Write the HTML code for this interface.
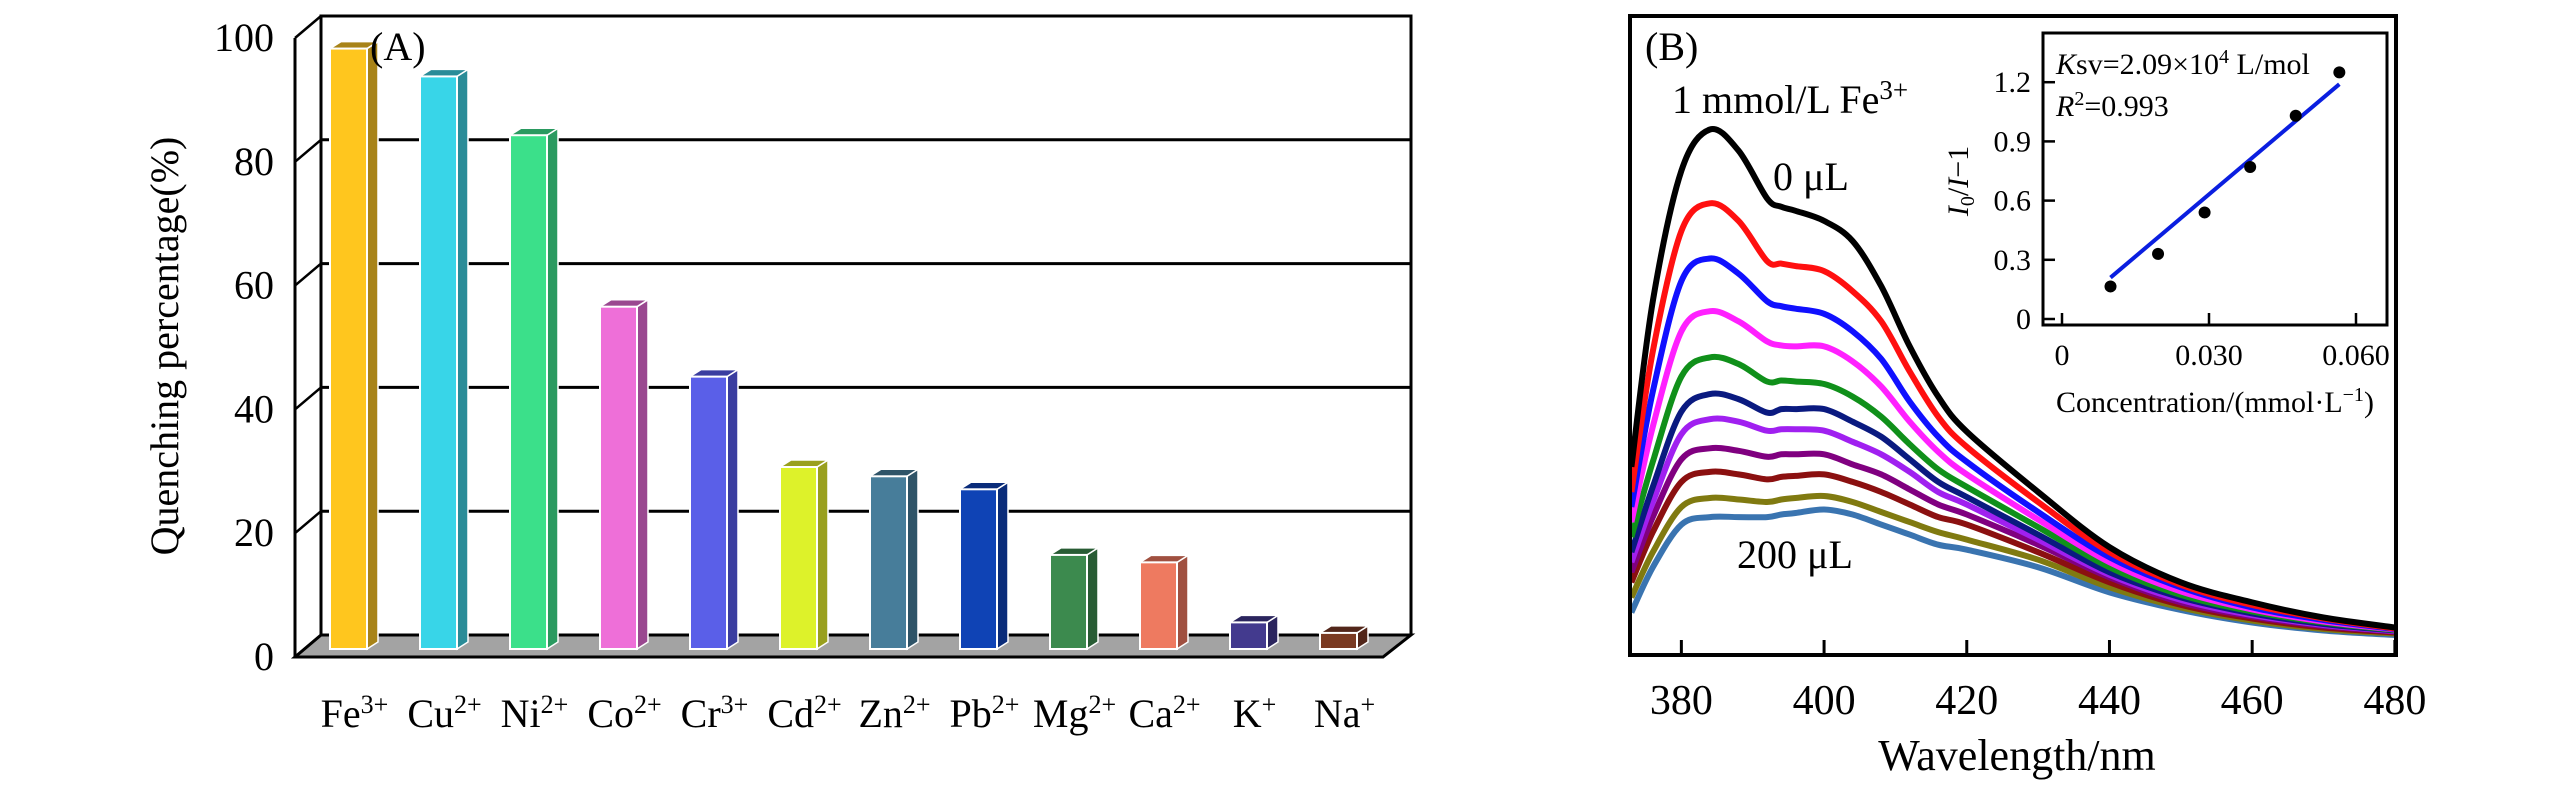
<!DOCTYPE html>
<html><head><meta charset="utf-8">
<style>
html,body{margin:0;padding:0;background:#fff;}
svg{display:block;font-family:"Liberation Serif","DejaVu Serif",serif;}
</style></head>
<body>
<svg id="fig" width="2567" height="787" viewBox="0 0 2567 787">
<g id="pa"></g>
<g id="pb"></g>
<g id="pc"></g>
</svg>
<script>
// ---------- Panel A data ----------
const ions = ["Fe","Cu","Ni","Co","Cr","Cd","Zn","Pb","Mg","Ca","K","Na"];
const charges = ["3+","2+","2+","2+","3+","2+","2+","2+","2+","2+","+","+"];
const quench = [97,92.5,83,55.3,44,29.4,27.9,25.8,15.2,14,4.3,2.6];
const yTicksA = [0,20,40,60,80,100];
const barColors = ["#FFC61E","#38D5E8","#3BE08A","#EE6FD8","#5A5FE8","#DDF22A","#477D9A","#0F43B5","#3C8A4E","#EE7A60","#433A8E","#7A3A22"];
const barSides = ["#A88318","#2A8C98","#2A9A60","#9A4890","#3A3DA0","#99A01E","#2F5468","#0A2C7A","#285C34","#A05040","#2B255E","#52261A"];

// ---------- Panel B data ----------
const wl = [373,376,380,384,388,392,394,396,400,404,408,412,416,420,430,440,450,460,470,480];
const s0 = [370,700,960,1042,1000,905,888,880,860,820,730,610,510,440,320,210,140,100,70,50];
const s1 = [320,600,840,895,860,780,775,770,760,720,660,560,470,410,300,200,135,95,68,48];
const s2 = [290,520,740,785,755,700,690,685,675,640,585,500,430,380,280,190,130,90,65,47];
const s3 = [260,450,640,680,660,620,612,610,610,580,530,460,400,355,265,180,122,86,62,46];
const s4 = [230,380,550,588,575,540,542,540,535,510,470,415,365,330,250,170,115,82,60,45];
const s5 = [200,330,480,515,505,478,485,485,485,460,430,385,340,310,235,160,110,78,57,44];
const s6 = [180,300,435,465,460,442,445,445,442,420,395,360,320,295,225,155,105,75,55,43];
const s7 = [160,270,385,407,402,390,395,395,395,375,355,325,295,275,215,150,100,72,53,42];
const s8 = [140,240,340,360,355,345,350,352,355,340,320,295,270,255,200,140,95,68,50,40];
const s9 = [110,200,290,308,305,300,305,308,312,300,280,260,240,225,185,130,90,64,47,38];
const s10 = [80,170,255,270,270,270,275,278,285,275,255,235,215,205,170,120,85,60,44,35];
const spectra = [s10,s9,s8,s7,s6,s5,s4,s3,s2,s1,s0];
const specColors = ["#3A74B0","#807A10","#8B1010","#800080","#A020F0","#0A1A80","#10901A","#FF20FF","#1010FF","#FF1010","#000000"];
const xTicksB = [380,400,420,440,460,480];

// ---------- Inset data ----------
const concX = [0.0099,0.0196,0.0291,0.0384,0.0477,0.0566];
const ratioY = [0.165,0.33,0.54,0.77,1.03,1.25];
const fitX = [0.0099,0.0566];
const fitY = [0.21,1.19];
const insetXTicks = [0,0.030,0.060];
const insetXLabels = ["0","0.030","0.060"];
const insetYTicks = [0,0.3,0.6,0.9,1.2];
const insetYLabels = ["0","0.3","0.6","0.9","1.2"];

const NS="http://www.w3.org/2000/svg";
function mk(parent,tag,attrs,txt){const e=document.createElementNS(NS,tag);for(const k in attrs)e.setAttribute(k,attrs[k]);if(txt!==undefined)e.textContent=txt;parent.appendChild(e);return e;}

// ===== Panel A =====
const pa=document.getElementById('pa');
const yBack=v=>635-6.19*v, yFront=v=>657-6.19*v, yBar=v=>649-6.19*v;
const barX=i=>330+90*i;
let e;
e=mk(pa,'polygon',{points:"295,657 1383,657 1411,635 321,635",fill:"#a3a3a3",stroke:"#000","stroke-width":3});


yTicksA.forEach(v=>{
  if(v>0&&v<100){
    e=mk(pa,'line',{x1:321,x2:1411,y1:yBack(v),y2:yBack(v),stroke:"#000","stroke-width":3});
    
    
  }
  e=mk(pa,'line',{x1:295,y1:yFront(v),x2:321,y2:yBack(v),stroke:"#000","stroke-width":2.5});
  
  
  e=mk(pa,'text',{x:274,y:yFront(v)+13,"text-anchor":"end","font-size":40},String(v));
  
  
});
e=mk(pa,'polyline',{points:`321,635 321,${yBack(100)} 1411,${yBack(100)} 1411,635`,fill:"none",stroke:"#000","stroke-width":3});


e=mk(pa,'line',{x1:295,y1:657,x2:295,y2:yFront(100),stroke:"#000","stroke-width":3});


quench.forEach((v,i)=>{
  const x=barX(i),w=37,b=649,t=yBar(v),dx=11,dy=-7;
  const g=mk(pa,'g',{});
  
  
  mk(g,'polygon',{points:`${x+w},${b} ${x+w+dx},${b+dy} ${x+w+dx},${t+dy} ${x+w},${t}`,fill:barSides[i],stroke:"#fff","stroke-width":1.5});
  mk(g,'polygon',{points:`${x},${t} ${x+dx},${t+dy} ${x+w+dx},${t+dy} ${x+w},${t}`,fill:barSides[i],stroke:"#fff","stroke-width":1.5});
  mk(g,'rect',{x:x,y:t,width:w,height:b-t,fill:barColors[i],stroke:"#fff","stroke-width":2});
  const tx=mk(pa,'text',{x:x+w/2+6,y:727,"text-anchor":"middle","font-size":40});
  
  
  mk(tx,'tspan',{},ions[i]);
  mk(tx,'tspan',{dy:-14,"font-size":26},charges[i]);
});
e=mk(pa,'text',{x:370,y:60,"font-size":40},"(A)");


e=mk(pa,'text',{x:0,y:0,"font-size":40,"text-anchor":"middle",transform:"translate(178,346) rotate(-90)"},"Quenching percentage(%)");



// ===== Panel B =====
const pb=document.getElementById('pb');
const bx=w=>1630+(w-372.8)*7.135, by=v=>652.6-0.502*v;
const cp=mk(pb,'clipPath',{id:'clipB'});mk(cp,'rect',{x:1630,y:16,width:766,height:639});
function smoothPath(P){
  let d=`M${P[0][0].toFixed(1)},${P[0][1].toFixed(1)}`;
  for(let i=0;i<P.length-1;i++){
    const p0=P[Math.max(i-1,0)],p1=P[i],p2=P[i+1],p3=P[Math.min(i+2,P.length-1)];
    const c1x=p1[0]+(p2[0]-p0[0])/6,c1y=p1[1]+(p2[1]-p0[1])/6;
    const c2x=p2[0]-(p3[0]-p1[0])/6,c2y=p2[1]-(p3[1]-p1[1])/6;
    d+=` C${c1x.toFixed(1)},${c1y.toFixed(1)} ${c2x.toFixed(1)},${c2y.toFixed(1)} ${p2[0].toFixed(1)},${p2[1].toFixed(1)}`;
  }
  return d;
}
spectra.forEach((s,k)=>{
  const P=s.map((v,j)=>[bx(wl[j]),by(v)]);
  e=mk(pb,'path',{d:smoothPath(P),fill:"none",stroke:specColors[k],"stroke-width":6,"stroke-linejoin":"round","clip-path":"url(#clipB)"});
  
  
});
e=mk(pb,'rect',{x:1630,y:16,width:766,height:639,fill:"none",stroke:"#000","stroke-width":4});


xTicksB.forEach(t=>{
  e=mk(pb,'line',{x1:bx(t),x2:bx(t),y1:655,y2:640,stroke:"#000","stroke-width":3});
  
  
  e=mk(pb,'text',{x:bx(t),y:714,"text-anchor":"middle","font-size":42},String(t));
  
  
});
e=mk(pb,'text',{x:2017,y:770,"text-anchor":"middle","font-size":44},"Wavelength/nm");


e=mk(pb,'text',{x:1645,y:60,"font-size":40},"(B)");


e=mk(pb,'text',{x:1672,y:113,"font-size":40});


mk(e,'tspan',{},"1 mmol/L Fe");mk(e,'tspan',{dy:-14,"font-size":27},"3+");
e=mk(pb,'text',{x:1773,y:190,"font-size":40},"0 μL");


e=mk(pb,'text',{x:1737,y:568,"font-size":40},"200 μL");



// ===== Inset =====
const pc=document.getElementById('pc');
const ix=c=>2062+c/0.06*294, iy=r=>319-r/0.3*59.2;
e=mk(pc,'rect',{x:2043,y:33,width:344,height:292,fill:"#fff",stroke:"#000","stroke-width":3});


insetXTicks.forEach((t,i)=>{
  e=mk(pc,'line',{x1:ix(t),x2:ix(t),y1:325,y2:313,stroke:"#000","stroke-width":2.5});
  
  
  e=mk(pc,'text',{x:ix(t),y:365,"text-anchor":"middle","font-size":30},insetXLabels[i]);
  
  
});
insetYTicks.forEach((t,i)=>{
  e=mk(pc,'line',{x1:2043,x2:2055,y1:iy(t),y2:iy(t),stroke:"#000","stroke-width":2.5});
  
  
  e=mk(pc,'text',{x:2031,y:iy(t)+10,"text-anchor":"end","font-size":30},insetYLabels[i]);
  
  
});
e=mk(pc,'line',{x1:ix(fitX[0]),y1:iy(fitY[0]),x2:ix(fitX[1]),y2:iy(fitY[1]),stroke:"#0a1ee0","stroke-width":4});


concX.forEach((c,i)=>{
  e=mk(pc,'circle',{cx:ix(c),cy:iy(ratioY[i]),r:6,fill:"#000"});
  
  
});
e=mk(pc,'text',{x:2056,y:74,"font-size":30});


mk(e,'tspan',{"font-style":"italic"},"K");mk(e,'tspan',{},"sv=2.09×10");mk(e,'tspan',{dy:-11,"font-size":20},"4");mk(e,'tspan',{dy:11}," L/mol");
e=mk(pc,'text',{x:2056,y:116,"font-size":30});


mk(e,'tspan',{"font-style":"italic"},"R");mk(e,'tspan',{dy:-11,"font-size":20},"2");mk(e,'tspan',{dy:11},"=0.993");
e=mk(pc,'text',{x:0,y:0,"font-size":30,"text-anchor":"middle",transform:"translate(1968,181) rotate(-90)"});


mk(e,'tspan',{"font-style":"italic"},"I");mk(e,'tspan',{dy:6,"font-size":20},"0");mk(e,'tspan',{dy:-6},"/");mk(e,'tspan',{"font-style":"italic"},"I");mk(e,'tspan',{},"−1");
e=mk(pc,'text',{x:2215,y:412,"text-anchor":"middle","font-size":30});


mk(e,'tspan',{},"Concentration/(mmol·L");mk(e,'tspan',{dy:-11,"font-size":20},"−1");mk(e,'tspan',{dy:11},")");
</script>
</body></html>
